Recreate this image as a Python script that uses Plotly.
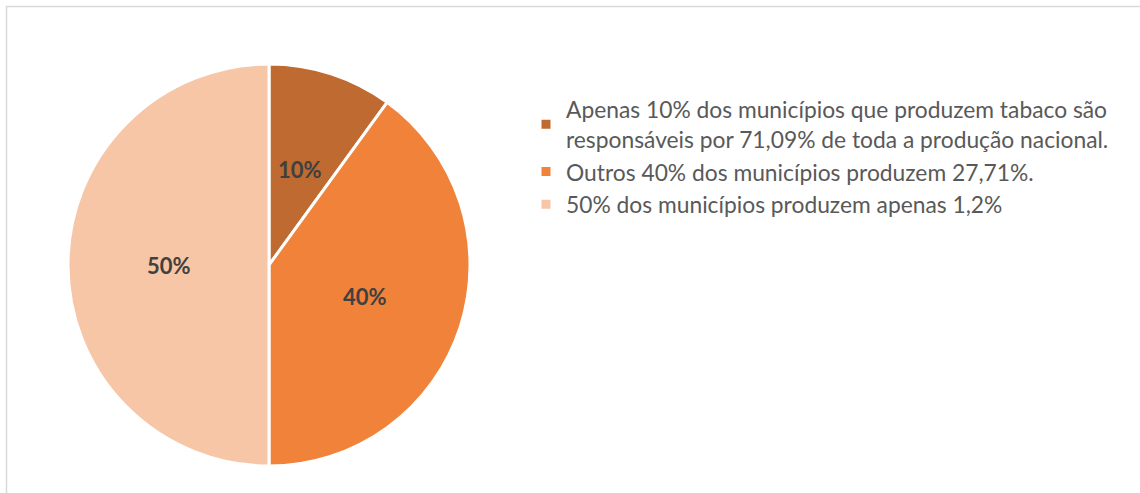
import math
import plotly.graph_objects as go

categories = [
    "Apenas 10% dos municípios que produzem tabaco são<br>responsáveis por 71,09% de toda a produção nacional.",
    "Outros 40% dos municípios produzem 27,71%.",
    "50% dos municípios produzem apenas 1,2%",
]
values = [10, 40, 50]
colors = ["#BE6A30", "#F0823A", "#F6C6A6"]

W, H = 1140, 493
cx, cy, R = 269, 265, 201  # pie centre and radius in pixels

fig = go.Figure(go.Pie(
    labels=categories,
    values=values,
    sort=False,
    direction="clockwise",
    rotation=0,
    marker=dict(colors=colors, line=dict(color="white", width=3)),
    textinfo="none",
    hoverinfo="label+percent",
    domain=dict(x=[(cx - R) / W, (cx + R) / W], y=[(H - cy - R) / H, (H - cy + R) / H]),
))

# percentage labels at half radius on each slice's mid angle (Excel style)
total = sum(values)
start = 0
annotations = []
for v in values:
    mid = (start + v / 2) / total * 2 * math.pi
    start += v
    annotations.append(dict(
        x=(cx + 0.5 * R * math.sin(mid)) / W,
        y=(H - cy + 0.5 * R * math.cos(mid)) / H,
        xref="paper", yref="paper", showarrow=False,
        xanchor="center", yanchor="middle",
        text="<b>%d%%</b>" % round(100 * v / total),
        font=dict(family="Lato", size=22, color="#404040"),
    ))

fig.update_layout(
    width=W, height=H,
    margin=dict(l=0, r=0, t=0, b=0),
    paper_bgcolor="white",
    font=dict(family="Lato", color="#595959"),
    annotations=annotations,
    legend=dict(
        x=526 / W, y=1 - 88 / H, xanchor="left", yanchor="top",
        font=dict(size=22.8, color="#595959"),
        itemwidth=30,
    ),
    shapes=[
        dict(type="line", xref="paper", yref="paper", x0=6 / W, x1=1, y0=1 - 6.5 / H, y1=1 - 6.5 / H,
             line=dict(color="#D9D9D9", width=1.5)),
        dict(type="line", xref="paper", yref="paper", x0=6.5 / W, x1=6.5 / W, y0=0, y1=1 - 6 / H,
             line=dict(color="#D9D9D9", width=1.5)),
    ],
)

fig.write_html("out.html", config={"displayModeBar": False},
               post_script="document.body.style.margin='0';")
